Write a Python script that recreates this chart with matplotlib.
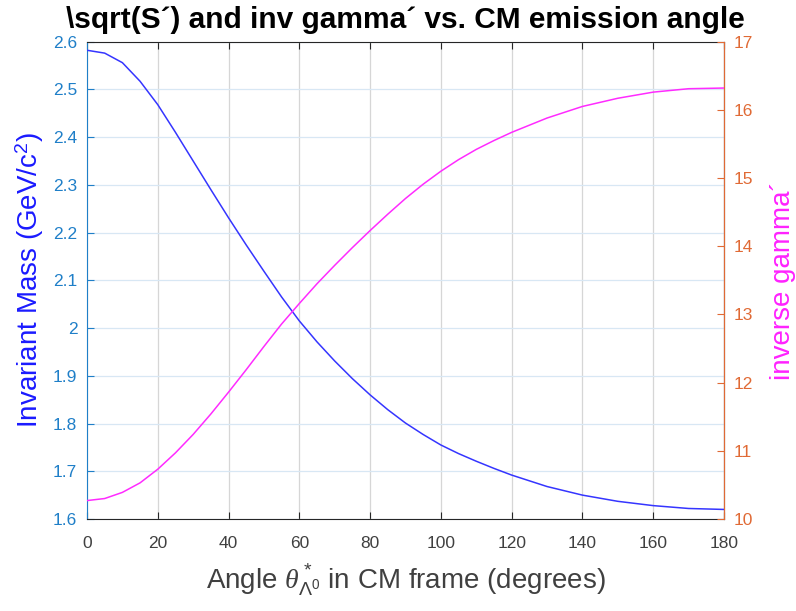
import matplotlib.pyplot as plt

plt.rcParams['font.family'] = ['Liberation Sans', 'DejaVu Sans']
plt.rcParams['mathtext.fontset'] = 'custom'
plt.rcParams['mathtext.rm'] = 'Liberation Sans'
plt.rcParams['mathtext.it'] = 'Liberation Serif:italic'

# emission angle in the CM frame (degrees)
angle = [0, 5, 10, 15, 20, 25, 30, 35, 40, 45, 50, 55, 60, 65, 70, 75, 80, 85,
         90, 95, 100, 105, 110, 115, 120, 130, 140, 150, 160, 170, 180]

# sqrt(S') in GeV/c^2
sqrt_s = [2.582, 2.576, 2.556, 2.517, 2.468, 2.410, 2.350, 2.290, 2.231, 2.174,
          2.119, 2.065, 2.015, 1.971, 1.931, 1.894, 1.860, 1.829, 1.801, 1.777,
          1.755, 1.737, 1.721, 1.706, 1.692, 1.668, 1.650, 1.637, 1.628, 1.622,
          1.620]

# inverse gamma'
inv_gamma = [10.27, 10.30, 10.39, 10.53, 10.73, 10.97, 11.24, 11.54, 11.86,
             12.19, 12.53, 12.86, 13.16, 13.45, 13.72, 13.98, 14.23, 14.47,
             14.70, 14.91, 15.10, 15.27, 15.42, 15.55, 15.67, 15.88, 16.05,
             16.17, 16.26, 16.31, 16.32]

x_ticks = list(range(0, 181, 20))
left_ticks = [1.6, 1.7, 1.8, 1.9, 2.0, 2.1, 2.2, 2.3, 2.4, 2.5, 2.6]
left_labels = ['1.6', '1.7', '1.8', '1.9', '2', '2.1', '2.2', '2.3', '2.4', '2.5', '2.6']
right_ticks = list(range(10, 18))

left_col = '#1f7fc8'
right_col = '#e06a35'
axis_gray = '#262626'

fig = plt.figure(figsize=(7.96, 6.11), dpi=100)
ax = fig.add_axes([0.1093, 0.1506, 0.8002, 0.7812])
ax2 = ax.twinx()

ax.plot(angle, sqrt_s, color='#3535ff', lw=1.1, zorder=3)
ax2.plot(angle, inv_gamma, color='#ff2bff', lw=1.1, zorder=3)

ax.set_xlim(0, 180)
ax.set_ylim(1.6, 2.6)
ax2.set_ylim(10, 17)

ax.set_xticks(x_ticks)
ax.set_yticks(left_ticks)
ax.set_yticklabels(left_labels)
ax2.set_yticks(right_ticks)

# grid: vertical lines gray, horizontal ones tinted like the left axis
ax.xaxis.grid(True, color='#d6d6d6', lw=0.9)
ax.yaxis.grid(True, color='#d8e7f4', lw=0.9)
ax.set_axisbelow(True)

ax.tick_params(axis='x', direction='in', length=5, top=True, pad=12,
               labelsize=12.5, colors=axis_gray, labelcolor='#404040')
ax.tick_params(axis='y', direction='in', length=5, pad=7, labelsize=12.5,
               colors=left_col)
ax2.tick_params(axis='y', direction='in', length=5, pad=7, labelsize=12.5,
                colors=right_col)

ax.spines['left'].set_color(left_col)
ax.spines['bottom'].set_color(axis_gray)
ax.spines['top'].set_color(axis_gray)
ax2.spines['right'].set_color(right_col)
ax2.spines['left'].set_visible(False)
ax2.spines['top'].set_visible(False)
ax2.spines['bottom'].set_visible(False)

ax.set_title('\\sqrt(S\u00b4) and inv gamma\u00b4 vs. CM emission angle',
             fontsize=21.5, fontweight='bold', pad=9.5)
ax.set_xlabel(r'Angle $\theta^*_{\Lambda^0}$ in CM frame (degrees)',
              fontsize=20, color='#404040', labelpad=8)
ax.set_ylabel(r'Invariant Mass (GeV/c$^2$)', fontsize=20, color='#1a1aff',
              labelpad=5)
ax2.set_ylabel('inverse gamma\u00b4', fontsize=20, color='#ff22ff', labelpad=12)

fig.savefig('out.png', dpi=100)
